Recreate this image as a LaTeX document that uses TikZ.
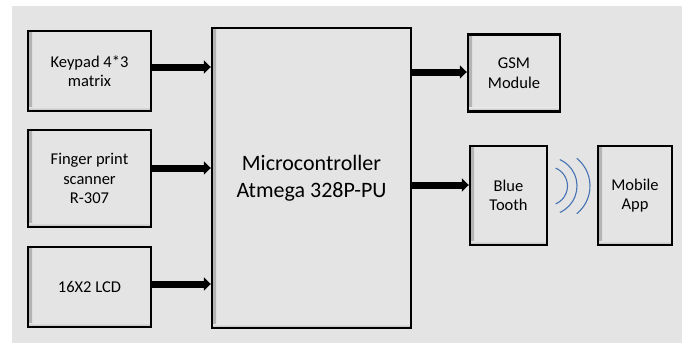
\documentclass[tikz,border=0pt]{standalone}
\usepackage{fontspec}
\setmainfont{Carlito}
\usetikzlibrary{arrows.meta}

\definecolor{panelgray}{RGB}{228,228,228}
\definecolor{wavecolor}{RGB}{70,115,180}

\begin{document}
\begin{tikzpicture}[x=1pt,y=-1pt,
        block/.style={draw=black, line width=2.4pt, fill=panelgray, align=center,
            inner sep=0pt, font=\fontsize{16.5}{19.5}\selectfont,
            path picture={
                \shade[left color=black!30, right color=panelgray, shading angle=90]
                    (path picture bounding box.south west) rectangle
                    ([xshift=4pt]path picture bounding box.north west);
                \shade[bottom color=black!30, top color=panelgray]
                    (path picture bounding box.south west) rectangle
                    ([yshift=4pt]path picture bounding box.south east);
            }},
        bus/.style={line width=7pt, -{Triangle[length=7pt,width=13pt]}},
        wave/.style={wavecolor, line width=1.1pt}
    ]
        \useasboundingbox (0,0) rectangle (686,349);
        \fill[panelgray] (12,6) rectangle (682,343);

        % inputs
        \node[block, minimum width=123pt, minimum height=80pt] (keypad) at (89.5,71) {Keypad 4*3\\matrix};
        \node[block, minimum width=123pt, minimum height=97pt] (finger) at (89.5,178.5) {Finger print\\scanner\\R-307};
        \node[block, minimum width=123pt, minimum height=80pt] (lcd) at (89.5,287) {16X2 LCD};

        % controller
        \node[block, minimum width=199pt, minimum height=300pt, font=\fontsize{22}{26.5}\selectfont] (mcu) at (311.5,178) {Microcontroller\\Atmega 328P-PU};

        % outputs
        \node[block, minimum width=92pt, minimum height=77pt] (gsm) at (514,73) {GSM\\Module};
        \node[block, minimum width=77pt, minimum height=99pt] (bt) at (508.5,195.5) {Blue\\Tooth};
        \node[block, minimum width=74pt, minimum height=99pt] (app) at (635,195.5) {Mobile\\App};

        \draw[bus] ([yshift=4pt]keypad.east) -- ([yshift=4pt]keypad.east -| mcu.west);
        \draw[bus] ([yshift=10.5pt]finger.east) -- ([yshift=10.5pt]finger.east -| mcu.west);
        \draw[bus] ([yshift=3pt]lcd.east) -- ([yshift=3pt]lcd.east -| mcu.west);
        \draw[bus] ([yshift=1pt]gsm.west -| mcu.east) -- ([yshift=1pt]gsm.west);
        \draw[bus] ([yshift=10.5pt]bt.west -| mcu.east) -- ([yshift=10.5pt]bt.west);

        % radio waves
        \coordinate (wv) at (548,186);
        \draw[wave] ([shift={(67:19.5)}]wv) arc (67:-67:19.5);
        \draw[wave] ([shift={(66:29)}]wv) arc (66:-66:29);
        \draw[wave] ([shift={(51:35.6)}]554.4,186) arc (51:-51:35.6);
\end{tikzpicture}
\end{document}
